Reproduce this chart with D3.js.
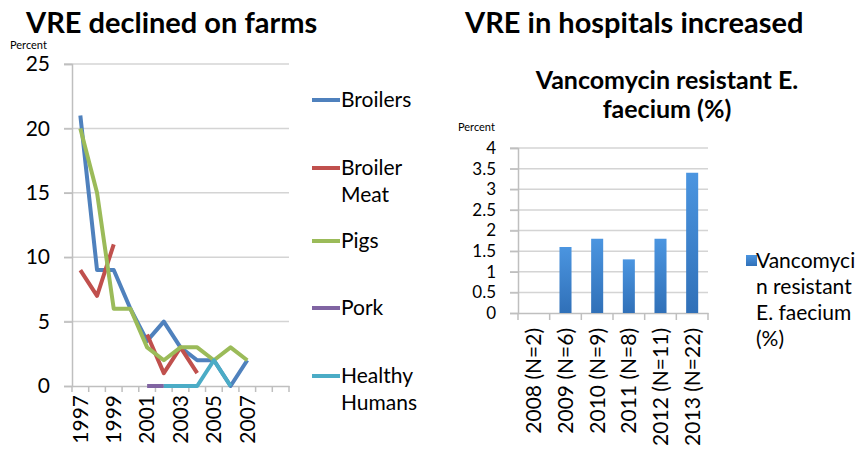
<!DOCTYPE html>
<html>
<head>
<meta charset="utf-8">
<script src="https://cdnjs.cloudflare.com/ajax/libs/d3/7.8.5/d3.min.js"></script>
<style>
  body { margin: 0; background: #fff; }
  text { font-family: Lato, "Open Sans", sans-serif; fill: #000; }
</style>
</head>
<body>
<script>
// Farm data (percent VRE), 1997 onward
var years = [1997, 1998, 1999, 2000, 2001, 2002, 2003, 2004, 2005, 2006, 2007, 2008, 2009];
var yearLabels = ["1997", "1999", "2001", "2003", "2005", "2007"];
var broilers = [21, 9, 9, 6, 3.5, 5, 3, 2, 2, 0, 2, null, null];
var broilerMeat = [9, 7, 11, null, 4, 1, 3, 1, null, null, null, null, null];
var pigs = [20, 15, 6, 6, 3, 2, 3, 3, 2, 3, 2, null, null];
var pork = [null, null, null, null, 0, 0, null, null, null, null, null, null, null];
var healthyHumans = [null, null, null, null, null, 0, 0, 0, 2, 0, null, null, null];
var farmTicks = [0, 5, 10, 15, 20, 25];

// Hospital data
var hospitalCats = ["2008 (N=2)", "2009 (N=6)", "2010 (N=9)", "2011 (N=8)", "2012 (N=11)", "2013 (N=22)"];
var hospitalValues = [0, 1.6, 1.8, 1.3, 1.8, 3.4];
var hospitalTicks = [0, 0.5, 1, 1.5, 2, 2.5, 3, 3.5, 4];

var series = [
  {name: ["Broilers"], values: broilers, color: "#4f81bd", ly: 100},
  {name: ["Broiler", "Meat"], values: broilerMeat, color: "#c0504d", ly: 168},
  {name: ["Pigs"], values: pigs, color: "#9bbb59", ly: 241},
  {name: ["Pork"], values: pork, color: "#8064a2", ly: 308},
  {name: ["Healthy", "Humans"], values: healthyHumans, color: "#4bacc6", ly: 376}
];

var svg = d3.select("body").append("svg")
    .attr("width", 866)
    .attr("height", 450);

// Titles
svg.append("text").attr("x", 26).attr("y", 33)
    .style("font-size", "29px").style("font-weight", "bold")
    .text("VRE declined on farms");
svg.append("text").attr("x", 465).attr("y", 33)
    .style("font-size", "29px").style("font-weight", "bold")
    .text("VRE in hospitals increased");

// ---------- Left: line chart ----------
var x1 = d3.scaleBand().domain(years).range([72, 289]);
var y1 = d3.scaleLinear().domain([0, 25]).range([386, 64]);

svg.append("text").attr("x", 10).attr("y", 49)
    .style("font-size", "11px").text("Percent");

svg.append("g").selectAll("line").data(farmTicks.slice(1)).join("line")
    .attr("x1", 64).attr("x2", 289)
    .attr("y1", d => y1(d)).attr("y2", d => y1(d))
    .attr("stroke", "#d4d4d4").attr("stroke-width", 1.5);

var yAxis1 = svg.append("g")
    .attr("transform", "translate(72,0)")
    .call(d3.axisLeft(y1).tickValues(farmTicks).tickSize(8).tickPadding(14));
yAxis1.selectAll("text").style("font-size", "21px");

var xAxis1 = svg.append("g")
    .attr("transform", "translate(0,386)")
    .call(d3.axisBottom(x1).tickSize(0).tickFormat(d => yearLabels.indexOf(String(d)) >= 0 ? d : ""));
xAxis1.selectAll(".tick text")
    .style("font-size", "21px")
    .attr("text-anchor", "end")
    .attr("transform", "rotate(-90)")
    .attr("x", -9).attr("y", 0).attr("dy", "0.35em");
// category separators
svg.append("g").selectAll("line").data(years.concat(["end"])).join("line")
    .attr("x1", (d, i) => 72 + i * x1.bandwidth())
    .attr("x2", (d, i) => 72 + i * x1.bandwidth())
    .attr("y1", 386).attr("y2", 392)
    .attr("stroke", "#bfbfbf").attr("stroke-width", 1.5);

[yAxis1, xAxis1].forEach(function(a) {
  a.select(".domain").attr("stroke", "#bfbfbf").attr("stroke-width", 1.5);
  a.selectAll(".tick line").attr("stroke", "#bfbfbf").attr("stroke-width", 1.5);
});

var line = d3.line()
    .defined(d => d != null)
    .x((d, i) => x1(years[i]) + x1.bandwidth() / 2)
    .y(d => y1(d));

series.forEach(function(s) {
  svg.append("path")
      .attr("d", line(s.values))
      .attr("fill", "none")
      .attr("stroke", s.color)
      .attr("stroke-width", 4)
      .attr("stroke-linejoin", "round");
});

// Left legend
var leg1 = svg.append("g");
series.forEach(function(s) {
  leg1.append("line")
      .attr("x1", 312).attr("x2", 340)
      .attr("y1", s.ly).attr("y2", s.ly)
      .attr("stroke", s.color).attr("stroke-width", 4);
  var t = leg1.append("text").attr("x", 341).attr("y", s.ly + 7)
      .style("font-size", "21px");
  s.name.forEach(function(n, i) {
    t.append("tspan").attr("x", 341).attr("dy", i ? 27 : 0).text(n);
  });
});

// ---------- Right: bar chart ----------
svg.append("text").attr("x", 667).attr("y", 89)
    .attr("text-anchor", "middle")
    .style("font-size", "25px").style("font-weight", "bold")
    .text("Vancomycin resistant E.");
svg.append("text").attr("x", 667).attr("y", 118)
    .attr("text-anchor", "middle")
    .style("font-size", "25px").style("font-weight", "bold")
    .text("faecium (%)");
svg.append("text").attr("x", 458).attr("y", 131)
    .style("font-size", "11px").text("Percent");

var x2 = d3.scaleBand().domain(hospitalCats).range([518, 708]);
var y2 = d3.scaleLinear().domain([0, 4]).range([313, 148]);

svg.append("g").selectAll("line").data(hospitalTicks.slice(1)).join("line")
    .attr("x1", 510).attr("x2", 708)
    .attr("y1", d => y2(d)).attr("y2", d => y2(d))
    .attr("stroke", "#d4d4d4").attr("stroke-width", 1.5);

var yAxis2 = svg.append("g")
    .attr("transform", "translate(518,0)")
    .call(d3.axisLeft(y2).tickValues(hospitalTicks).tickSize(8).tickPadding(14).tickFormat(d => String(d)));
yAxis2.selectAll("text").style("font-size", "17px");

var xAxis2 = svg.append("g")
    .attr("transform", "translate(0,313)")
    .call(d3.axisBottom(x2).tickSize(0));
xAxis2.selectAll(".tick text")
    .style("font-size", "21px")
    .attr("text-anchor", "end")
    .attr("transform", "rotate(-90)")
    .attr("x", -15).attr("y", 0).attr("dy", "0.35em");
svg.append("g").selectAll("line").data(hospitalCats.concat(["end"])).join("line")
    .attr("x1", (d, i) => 518 + i * x2.bandwidth())
    .attr("x2", (d, i) => 518 + i * x2.bandwidth())
    .attr("y1", 313).attr("y2", 320)
    .attr("stroke", "#bfbfbf").attr("stroke-width", 1.5);

[yAxis2, xAxis2].forEach(function(a) {
  a.select(".domain").attr("stroke", "#bfbfbf").attr("stroke-width", 1.5);
  a.selectAll(".tick line").attr("stroke", "#bfbfbf").attr("stroke-width", 1.5);
});

var defs = svg.append("defs");
var grad = defs.append("linearGradient").attr("id", "barGrad")
    .attr("x1", 0).attr("y1", 0).attr("x2", 0).attr("y2", 1);
grad.append("stop").attr("offset", "0%").attr("stop-color", "#4b95e0");
grad.append("stop").attr("offset", "100%").attr("stop-color", "#3070b8");

var barW = x2.bandwidth() * 0.38;
svg.append("g").selectAll("rect").data(hospitalValues).join("rect")
    .attr("x", (d, i) => x2(hospitalCats[i]) + (x2.bandwidth() - barW) / 2)
    .attr("y", d => y2(d))
    .attr("width", barW)
    .attr("height", d => y2(0) - y2(d))
    .attr("fill", "url(#barGrad)");

// Right legend
svg.append("rect").attr("x", 746).attr("y", 255).attr("width", 11).attr("height", 11)
    .attr("fill", "url(#barGrad)");
var leg2 = svg.append("text").attr("x", 756).attr("y", 268).style("font-size", "21px");
["Vancomyci", "n resistant", "E. faecium", "(%)"].forEach(function(n, i) {
  leg2.append("tspan").attr("x", 756).attr("dy", i ? 26 : 0).text(n);
});
</script>
</body>
</html>
